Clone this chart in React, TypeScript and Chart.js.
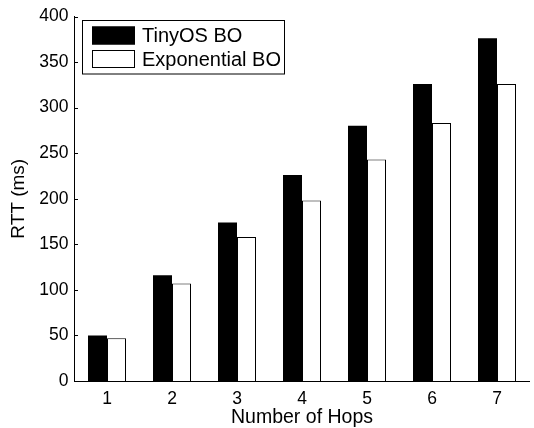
import React, { useEffect, useRef } from "react";
import { Chart, registerables } from "chart.js";

Chart.register(...registerables);

const categories = ["1", "2", "3", "4", "5", "6", "7"];
const tinyosBO = [50, 116, 174, 226, 280, 326, 376];
const exponentialBO = [47, 107, 158, 198, 243, 283, 326];
const seriesNames = ["TinyOS BO", "Exponential BO"];
const yTicks = [0, 50, 100, 150, 200, 250, 300, 350, 400];

const FONT = "'Liberation Sans', Arial, Helvetica, sans-serif";

const innerTicksPlugin = {
  id: "innerTicks",
  afterDraw(chart: any) {
    const ctx = chart.ctx;
    const y = chart.scales.y;
    const left = Math.floor(chart.chartArea.left);
    ctx.save();
    ctx.strokeStyle = "#000";
    ctx.lineWidth = 1;
    ctx.beginPath();
    y.ticks.forEach((t: any) => {
      const py = Math.round(y.getPixelForValue(t.value)) + 0.5;
      ctx.moveTo(left, py);
      ctx.lineTo(left + 4, py);
    });
    ctx.stroke();
    ctx.restore();
  },
};

const legendPlugin = {
  id: "boxLegend",
  afterDraw(chart: any) {
    const ctx = chart.ctx;
    const bx = 82.5, by = 20.5, bw = 202, bh = 53.5;
    ctx.save();
    ctx.fillStyle = "#fff";
    ctx.fillRect(bx, by, bw, bh);
    ctx.strokeStyle = "#000";
    ctx.lineWidth = 1;
    ctx.strokeRect(bx, by, bw, bh);
    const ds = chart.data.datasets;
    const rows = [35.5, 59];
    ds.forEach((d: any, i: number) => {
      const cy = rows[i];
      ctx.fillStyle = d.backgroundColor;
      ctx.fillRect(92, cy - 9, 43, 18);
      ctx.strokeStyle = "#000";
      ctx.strokeRect(92.5, cy - 8.5, 42, 17);
      ctx.fillStyle = "#000";
      ctx.font = `20px ${FONT}`;
      ctx.textBaseline = "middle";
      ctx.textAlign = "left";
      ctx.fillText(d.label, 142, cy + 1);
    });
    ctx.restore();
  },
};

export default function App() {
  const ref = useRef<HTMLCanvasElement>(null);
  useEffect(() => {
    document.body.style.margin = "0";
    const chart = new Chart(ref.current!, {
      type: "bar",
      data: {
        labels: categories,
        datasets: [
          {
            label: seriesNames[0],
            data: tinyosBO,
            backgroundColor: "#000000",
            borderColor: "#000000",
            borderWidth: 0,
            categoryPercentage: 38 / 65,
            barPercentage: 1,
          },
          {
            label: seriesNames[1],
            data: exponentialBO,
            backgroundColor: "#ffffff",
            borderColor: "#000000",
            borderWidth: 1,
            categoryPercentage: 38 / 65,
            barPercentage: 1,
          },
        ],
      },
      options: {
        responsive: false,
        animation: false,
        layout: { padding: { left: 0, right: 4.5, top: 14, bottom: 0 } },
        plugins: { legend: { display: false }, tooltip: { enabled: false } },
        scales: {
          x: {
            grid: { display: false, drawTicks: false },
            border: { display: true, color: "#000", width: 1 },
            ticks: { color: "#000", font: { family: FONT, size: 17.5 }, padding: 8 },
            title: {
              display: true,
              text: "Number of Hops",
              color: "#000",
              font: { family: FONT, size: 19.5 },
              padding: { top: 0, bottom: -1.5 },
            },
            afterFit(scale: any) {
              scale.height = 47;
            },
          },
          y: {
            min: 0,
            max: 400,
            afterBuildTicks(scale: any) {
              scale.ticks = yTicks.map((v) => ({ value: v }));
            },
            grid: { display: false, drawTicks: false },
            border: { display: true, color: "#000", width: 1 },
            ticks: { color: "#000", font: { family: FONT, size: 17.5 }, padding: 6 },
            title: {
              display: true,
              text: "RTT (ms)",
              color: "#000",
              font: { family: FONT, size: 19 },
              padding: { top: 7, bottom: 0 },
            },
            afterFit(scale: any) {
              scale.width = 74.5;
            },
          },
        },
      },
      plugins: [innerTicksPlugin, legendPlugin],
    });
    return () => chart.destroy();
  }, []);
  return (
    <div style={{ width: 534, height: 428, background: "#fff" }}>
      <canvas ref={ref} width={534} height={428} />
    </div>
  );
}
